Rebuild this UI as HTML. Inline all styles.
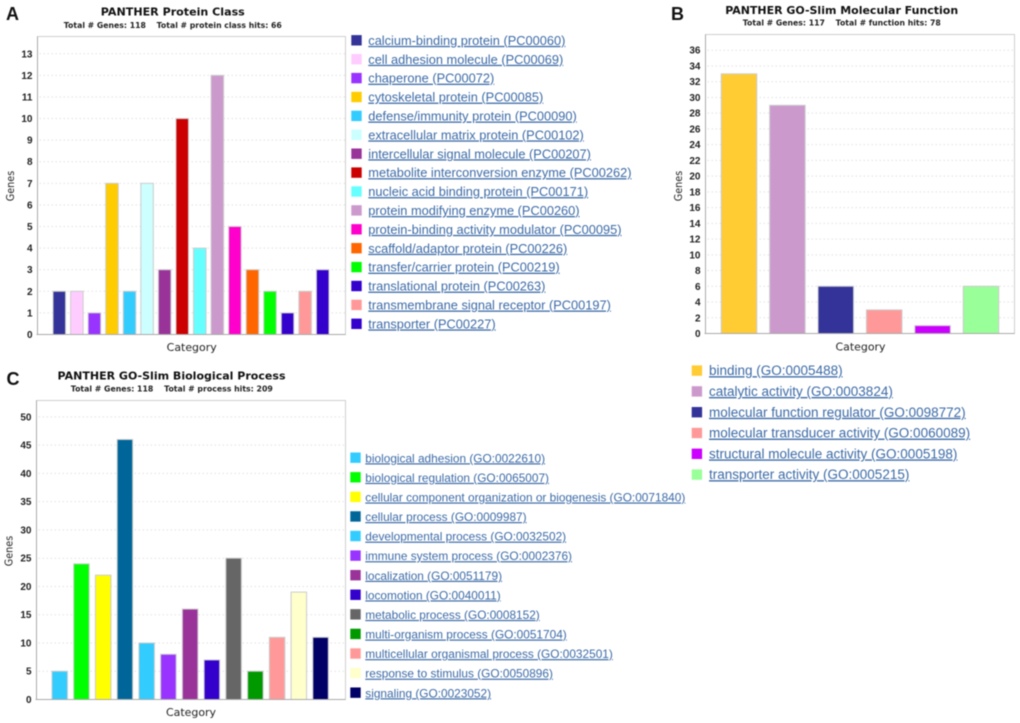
<!DOCTYPE html>
<html>
<head>
<meta charset="utf-8">
<title>PANTHER charts</title>
<style>
html,body{margin:0;padding:0;background:#fff;width:1020px;height:723px;overflow:hidden}
svg{display:block;filter:blur(0.45px)}
.panel{font:bold 18px "Liberation Sans",sans-serif;fill:#111}
.title{font:bold 11px "DejaVu Sans",sans-serif;fill:#111;text-anchor:middle}
.sub{font:bold 7.5px "DejaVu Sans",sans-serif;fill:#222;text-anchor:middle;white-space:pre}
.tick{font:bold 10px "Liberation Sans",sans-serif;fill:#222;text-anchor:end}
.axis-label{font:10.5px "DejaVu Sans",sans-serif;fill:#222;text-anchor:middle}
.legend{font-family:"Liberation Sans",sans-serif;fill:#3c6aa6;text-decoration:underline;cursor:pointer}
</style>
</head>
<body>
<svg id="fig" xmlns="http://www.w3.org/2000/svg" width="1020" height="723" viewBox="0 0 1020 723"></svg>
<script>
const categoriesA = ["calcium-binding protein (PC00060)","cell adhesion molecule (PC00069)","chaperone (PC00072)","cytoskeletal protein (PC00085)","defense/immunity protein (PC00090)","extracellular matrix protein (PC00102)","intercellular signal molecule (PC00207)","metabolite interconversion enzyme (PC00262)","nucleic acid binding protein (PC00171)","protein modifying enzyme (PC00260)","protein-binding activity modulator (PC00095)","scaffold/adaptor protein (PC00226)","transfer/carrier protein (PC00219)","translational protein (PC00263)","transmembrane signal receptor (PC00197)","transporter (PC00227)"];
const valuesA = [2,2,1,7,2,7,3,10,4,12,5,3,2,1,2,3];
const ticksA = [0,1,2,3,4,5,6,7,8,9,10,11,12,13];
const paletteA = ["#333399","#ffccff","#9933ff","#ffcc00","#33ccff","#ccffff","#993399","#cc0000","#66ffff","#cc99cc","#ff00cc","#ff6600","#00ff00","#3300cc","#ff9999","#3300cc"];

const categoriesB = ["binding (GO:0005488)","catalytic activity (GO:0003824)","molecular function regulator (GO:0098772)","molecular transducer activity (GO:0060089)","structural molecule activity (GO:0005198)","transporter activity (GO:0005215)"];
const valuesB = [33,29,6,3,1,6];
const ticksB = [0,2,4,6,8,10,12,14,16,18,20,22,24,26,28,30,32,34,36];
const paletteB = ["#ffcc33","#cc99cc","#333399","#ff9999","#cc00ff","#99ff99"];

const categoriesC = ["biological adhesion (GO:0022610)","biological regulation (GO:0065007)","cellular component organization or biogenesis (GO:0071840)","cellular process (GO:0009987)","developmental process (GO:0032502)","immune system process (GO:0002376)","localization (GO:0051179)","locomotion (GO:0040011)","metabolic process (GO:0008152)","multi-organism process (GO:0051704)","multicellular organismal process (GO:0032501)","response to stimulus (GO:0050896)","signaling (GO:0023052)"];
const valuesC = [5,24,22,46,10,8,16,7,25,5,11,19,11];
const ticksC = [0,5,10,15,20,25,30,35,40,45,50];
const paletteC = ["#33ccff","#00ff00","#ffff00","#006699","#33ccff","#9933ff","#993399","#3300cc","#666666","#009900","#ff9999","#ffffcc","#000066"];

const NS = "http://www.w3.org/2000/svg";
const fig = document.getElementById("fig");

function make(tag, attrs, parent, text) {
  const el = document.createElementNS(NS, tag);
  for (const k in attrs) el.setAttribute(k, attrs[k]);
  if (text !== undefined) el.textContent = text;
  parent.appendChild(el);
  return el;
}

function drawChart(c) {
  const g = make("g", {}, fig);
  
  

  const y = v => c.bottom - v * (c.bottom - c.top) / c.domainMax;
  const x = i => c.firstCenter + i * c.step;

  const panel = make("text", {class:"panel", x:c.panelX, y:c.panelY}, g, c.panel);
  
  

  const title = make("text", {class:"title", x:c.titleX, y:c.titleY, textLength:c.titleW, lengthAdjust:"spacingAndGlyphs"}, g, c.title);
  
  

  const sub = make("text", {class:"sub", x:c.subX, y:c.subY, textLength:c.subW, lengthAdjust:"spacingAndGlyphs"}, g, c.sub);
  
  

  const plot = make("rect", {x:c.left, y:c.top, width:c.right - c.left, height:c.bottom - c.top, fill:"#fff", stroke:"#cfcfcf", "stroke-width":1}, g);
  
  

  c.ticks.forEach(t => {
    if (t !== 0) {
      const grid = make("line", {x1:c.left + 2, x2:c.right, y1:y(t), y2:y(t), stroke:"#e2e2e2", "stroke-width":1, "stroke-dasharray":"1.5 2.5"}, g);
      
      
    }
    const tick = make("text", {class:"tick", x:c.left - 5, y:y(t) + 3.5}, g, String(t));
    
    
  });

  c.values.forEach((v, i) => {
    const bar = make("rect", {x:x(i) - c.barW / 2, y:y(v), width:c.barW, height:c.bottom - y(v), fill:c.palette[i], stroke:"#cccccc", "stroke-width":1}, g);
    
    
  });

  const yAxis = make("line", {x1:c.left, x2:c.left, y1:c.top, y2:c.bottom, stroke:"#aaaaaa", "stroke-width":1}, g);
  
  

  const xAxis = make("line", {x1:c.left - 1, x2:c.right, y1:c.bottom, y2:c.bottom, stroke:"#aaaaaa", "stroke-width":1}, g);
  
  

  const yTitle = make("text", {class:"axis-label", transform:"translate(" + c.yTitleX + "," + c.yTitleY + ") rotate(-90)", textLength:30.5, lengthAdjust:"spacingAndGlyphs"}, g, "Genes");
  
  

  const xTitle = make("text", {class:"axis-label", x:c.xTitleX, y:c.xTitleY, textLength:50, lengthAdjust:"spacingAndGlyphs"}, g, "Category");
  
  

  c.categories.forEach((name, i) => {
    const rowY = c.legendY + i * c.legendStep;
    const swatch = make("rect", {x:c.swatchX, y:rowY - 5.3, width:10.4, height:10.4, fill:c.palette[i]}, g);
    
    
    const label = make("text", {class:"legend", x:c.legendX, y:rowY + 4.5, "font-size":c.legendFont}, g, name);
    
    
  });
}

drawChart({id:"protein-class", panel:"A", panelX:6, panelY:20,
  title:"PANTHER Protein Class", titleX:172.8, titleY:15.5, titleW:144,
  sub:"Total # Genes: 118    Total # protein class hits: 66", subX:172.8, subY:28, subW:218,
  left:37.5, right:345.5, top:36.5, bottom:334.5, domainMax:13.8,
  firstCenter:59.3, step:17.56, barW:12.5,
  ticks:ticksA, values:valuesA, categories:categoriesA, palette:paletteA,
  yTitleX:14, yTitleY:186, xTitleX:191.7, xTitleY:351,
  swatchX:351.3, legendX:368.3, legendY:40.4, legendStep:18.9, legendFont:12.8});

drawChart({id:"molecular-function", panel:"B", panelX:671, panelY:20,
  title:"PANTHER GO-Slim Molecular Function", titleX:841.7, titleY:14, titleW:233,
  sub:"Total # Genes: 117    Total # function hits: 78", subX:841.8, subY:25.5, subW:198,
  left:705.5, right:1014.5, top:34.5, bottom:333.5, domainMax:38,
  firstCenter:739, step:48.4, barW:35.5,
  ticks:ticksB, values:valuesB, categories:categoriesB, palette:paletteB,
  yTitleX:682, yTitleY:186, xTitleX:860.5, xTitleY:350.5,
  swatchX:691.7, legendX:709, legendY:370.7, legendStep:20.8, legendFont:13.5});

drawChart({id:"biological-process", panel:"C", panelX:6.5, panelY:385,
  title:"PANTHER GO-Slim Biological Process", titleX:171.5, titleY:379.7, titleW:228,
  sub:"Total # Genes: 118    Total # process hits: 209", subX:171.8, subY:391.7, subW:202,
  left:36.5, right:345.5, top:400.5, bottom:699.5, domainMax:52.9,
  firstCenter:59.7, step:21.74, barW:15.5,
  ticks:ticksC, values:valuesC, categories:categoriesC, palette:paletteC,
  yTitleX:12.5, yTitleY:551, xTitleX:191, xTitleY:716,
  swatchX:350.3, legendX:365.3, legendY:457.8, legendStep:19.58, legendFont:11.85});
</script>
</body>
</html>
